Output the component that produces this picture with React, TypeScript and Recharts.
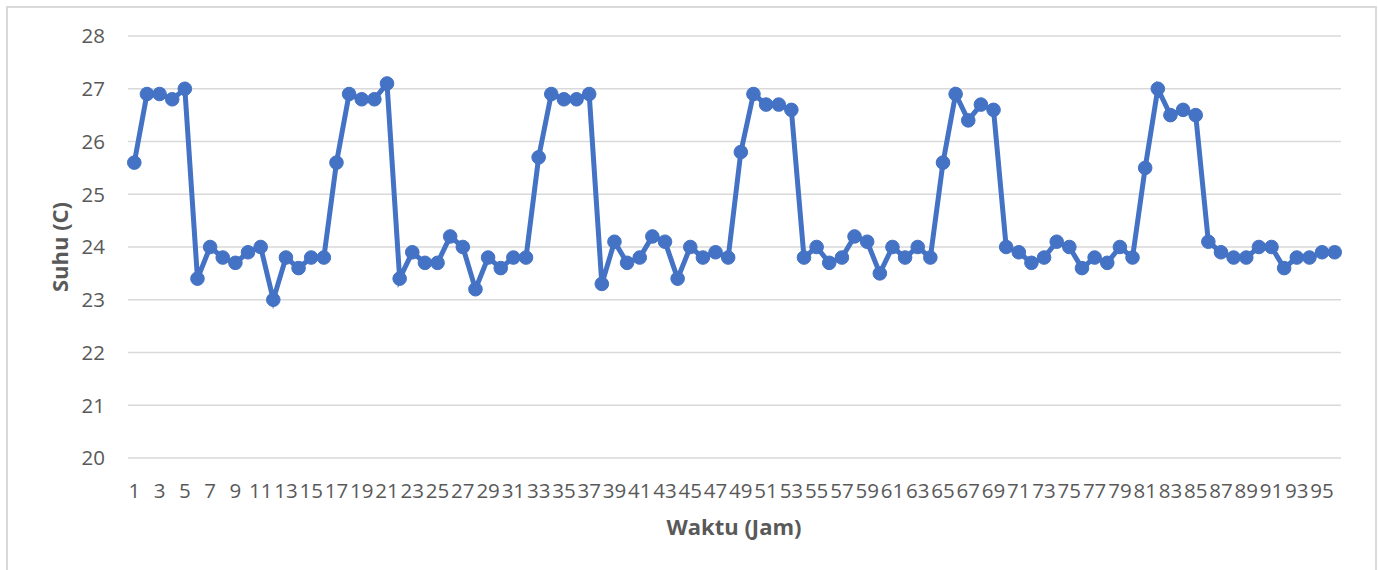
import React from 'react';
import { LineChart, Line, XAxis, YAxis, CartesianGrid, Label } from 'recharts';

// Hour index (x categories)
const hours = [
  1, 2, 3, 4, 5, 6, 7, 8, 9, 10, 11, 12, 13, 14, 15, 16,
  17, 18, 19, 20, 21, 22, 23, 24, 25, 26, 27, 28, 29, 30, 31, 32,
  33, 34, 35, 36, 37, 38, 39, 40, 41, 42, 43, 44, 45, 46, 47, 48,
  49, 50, 51, 52, 53, 54, 55, 56, 57, 58, 59, 60, 61, 62, 63, 64,
  65, 66, 67, 68, 69, 70, 71, 72, 73, 74, 75, 76, 77, 78, 79, 80,
  81, 82, 83, 84, 85, 86, 87, 88, 89, 90, 91, 92, 93, 94, 95, 96,
];

// Temperature readings (C)
const temperatures = [
  25.6, 26.9, 26.9, 26.8, 27.0, 23.4, 24.0, 23.8, 23.7, 23.9, 24.0, 23.0, 23.8, 23.6, 23.8, 23.8,
  25.6, 26.9, 26.8, 26.8, 27.1, 23.4, 23.9, 23.7, 23.7, 24.2, 24.0, 23.2, 23.8, 23.6, 23.8, 23.8,
  25.7, 26.9, 26.8, 26.8, 26.9, 23.3, 24.1, 23.7, 23.8, 24.2, 24.1, 23.4, 24.0, 23.8, 23.9, 23.8,
  25.8, 26.9, 26.7, 26.7, 26.6, 23.8, 24.0, 23.7, 23.8, 24.2, 24.1, 23.5, 24.0, 23.8, 24.0, 23.8,
  25.6, 26.9, 26.4, 26.7, 26.6, 24.0, 23.9, 23.7, 23.8, 24.1, 24.0, 23.6, 23.8, 23.7, 24.0, 23.8,
  25.5, 27.0, 26.5, 26.6, 26.5, 24.1, 23.9, 23.8, 23.8, 24.0, 24.0, 23.6, 23.8, 23.8, 23.9, 23.9,
];

const yTicks = [20, 21, 22, 23, 24, 25, 26, 27, 28];

const textColor = '#595959';
const lineColor = '#4472C4';
const gridColor = '#D9D9D9';
const fontFamily = '"Open Sans", sans-serif';

const chartData = hours.map((h, i) => ({ hour: String(h), temp: temperatures[i] }));

const YTitle = () => (
  <text
    x={59}
    y={247}
    transform="rotate(-90, 59, 247)"
    textAnchor="middle"
    dominantBaseline="central"
    fill={textColor}
    fontFamily={fontFamily}
    fontSize={22}
    fontWeight={700}
  >
    Suhu (C)
  </text>
);

const XTitle = () => (
  <text
    x={734}
    y={535}
    textAnchor="middle"
    fill={textColor}
    fontFamily={fontFamily}
    fontSize={22}
    fontWeight={700}
  >
    Waktu (Jam)
  </text>
);

export default function App() {
  return (
    <div style={{ position: 'absolute', left: 0, top: 0, width: 1378, height: 570, overflow: 'hidden', background: '#fff' }}>
      <div
        style={{
          position: 'absolute',
          left: 6,
          top: 6,
          width: 1367,
          height: 600,
          border: `2px solid ${gridColor}`,
        }}
      />
      <div style={{ position: 'absolute', left: 0, top: 0 }}>
        <LineChart
          width={1378}
          height={570}
          data={chartData}
          margin={{ top: 36, right: 37, bottom: 0, left: 0 }}
        >
          <CartesianGrid vertical={false} stroke={gridColor} strokeWidth={1.5} />
          <XAxis
            dataKey="hour"
            height={112}
            interval={1}
            padding={{ left: 6.3, right: 6.3 }}
            axisLine={false}
            tickLine={false}
            tickSize={0}
            tickMargin={25}
            tick={{ fill: textColor, fontSize: 20.5, fontFamily }}
          >
            <Label content={<XTitle />} />
          </XAxis>
          <YAxis
            width={128}
            domain={[20, 28]}
            ticks={yTicks}
            axisLine={false}
            tickLine={false}
            tickSize={0}
            tickMargin={23}
            tick={{ fill: textColor, fontSize: 20.5, fontFamily }}
          >
            <Label content={<YTitle />} />
          </YAxis>
          <Line
            type="linear"
            dataKey="temp"
            stroke={lineColor}
            strokeWidth={5}
            dot={{ r: 6.8, fill: lineColor, stroke: lineColor, strokeWidth: 1 }}
            activeDot={false}
            isAnimationActive={false}
          />
        </LineChart>
      </div>
    </div>
  );
}
